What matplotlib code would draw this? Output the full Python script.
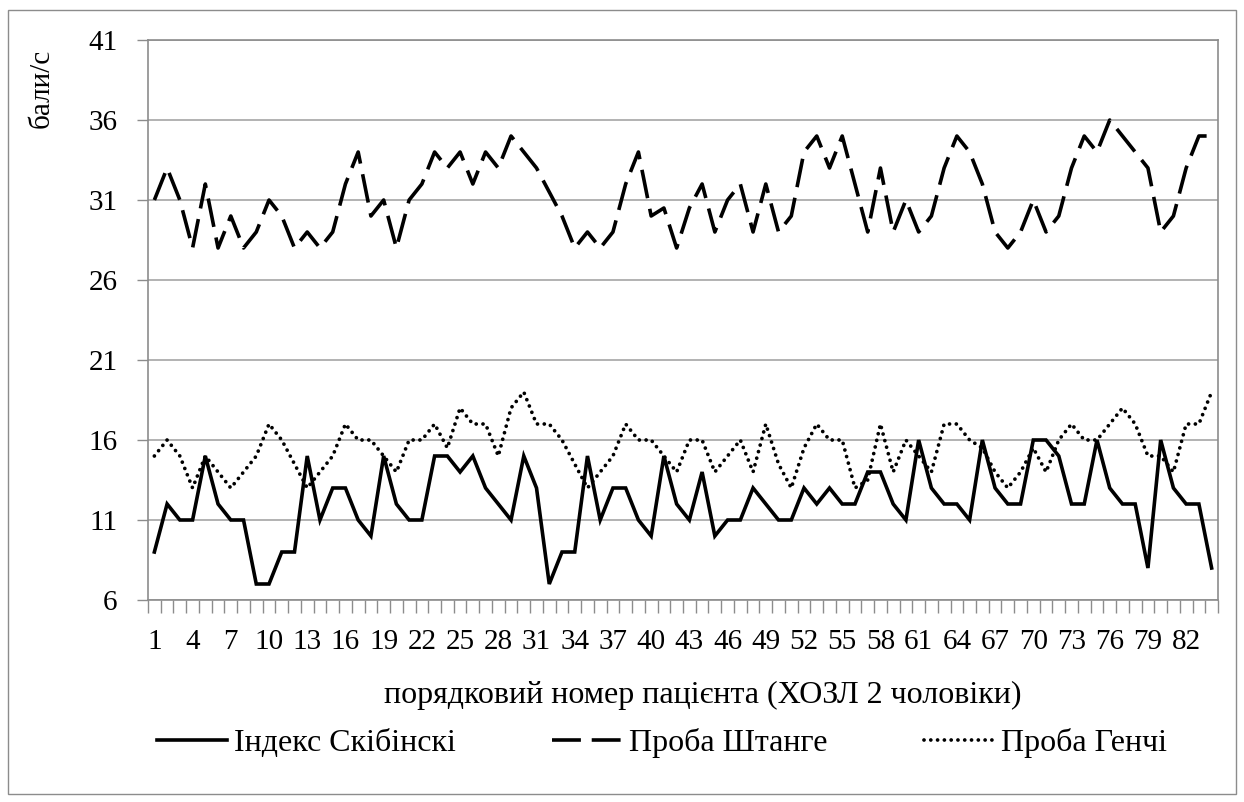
import matplotlib
matplotlib.use("Agg")
import matplotlib.pyplot as plt
from matplotlib.patches import Rectangle
import numpy as np

plt.rcParams['font.family'] = ['Liberation Serif', 'DejaVu Serif']

patients = list(range(1, 85))

skibinski = [9, 12, 11, 11, 15, 12, 11, 11, 7, 7,
             9, 9, 15, 11, 13, 13, 11, 10, 15, 12,
             11, 11, 15, 15, 14, 15, 13, 12, 11, 15,
             13, 7, 9, 9, 15, 11, 13, 13, 11, 10,
             15, 12, 11, 14, 10, 11, 11, 13, 12, 11,
             11, 13, 12, 13, 12, 12, 14, 14, 12, 11,
             16, 13, 12, 12, 11, 16, 13, 12, 12, 16,
             16, 15, 12, 12, 16, 13, 12, 12, 8, 16,
             13, 12, 12, 8]

shtange = [31, 33, 31, 28, 32, 28, 30, 28, 29, 31,
           30, 28, 29, 28, 29, 32, 34, 30, 31, 28,
           31, 32, 34, 33, 34, 32, 34, 33, 35, 34,
           33, 31.5, 30, 28, 29, 28, 29, 32, 34, 30,
           30.5, 28, 30.5, 32, 29, 31, 32, 29, 32, 29,
           30, 34, 35, 33, 35, 32, 29, 33, 29, 31,
           29, 30, 33, 35, 34, 32, 29, 28, 29, 31,
           29, 30, 33, 35, 34, 36, 35, 34, 33, 29,
           30, 33, 35, 35]

genchi = [15, 16, 15, 13, 15, 14, 13, 14, 15, 17,
          16, 14.5, 13, 14, 15, 17, 16, 16, 15, 14,
          16, 16, 17, 15.5, 18, 17, 17, 15, 18, 19,
          17, 17, 16, 14.5, 13, 14, 15, 17, 16, 16,
          15, 14, 16, 16, 14, 15, 16, 14, 17, 14.5,
          13, 15.5, 17, 16, 16, 13, 13.5, 17, 14, 16,
          15, 14, 17, 17, 16, 15.5, 14, 13, 14, 15.5,
          14, 16, 17, 16, 16, 17, 18, 17, 15, 15,
          14, 17, 17, 19]

y_ticks = [6, 11, 16, 21, 26, 31, 36, 41]

W, H = 1244, 802
fig = plt.figure(figsize=(W / 100, H / 100), dpi=100)
ax = fig.add_axes([148 / W, 1 - 600 / H, 1070 / W, 560 / H])

# chart area border
fig.patches.append(Rectangle((8 / W, 1 - 794 / H), 1228 / W, 784 / H,
                             transform=fig.transFigure, fill=False,
                             edgecolor='#8c8c8c', linewidth=1.0))

ax.plot(patients, skibinski, color='black', lw=2.6, solid_joinstyle='miter',
        label='Індекс Скібінскі')
ax.plot(patients, shtange, color='black', lw=2.6, linestyle=(0, (8, 3)),
        dash_capstyle='butt', label='Проба Штанге')
ax.plot(patients, genchi, color='black', lw=2.7, linestyle=(0, (0.01, 1.8)),
        dash_capstyle='round', label='Проба Генчі')

ax.set_xlim(0.5, 84.5)
ax.set_ylim(6, 41)
ax.set_yticks(y_ticks)
ax.grid(axis='y', color='#a6a6a6', lw=1.2)
ax.set_axisbelow(True)

ax.set_xticks(patients[::3])
ax.set_xticks(np.arange(0.5, 85, 1), minor=True)
ax.tick_params(axis='x', which='major', length=0, pad=21, labelsize=21)
ax.tick_params(axis='x', which='minor', length=9, width=1, color='#8c8c8c', direction='out')
ax.tick_params(axis='y', length=8, width=1, color='#8c8c8c', labelsize=21, pad=14)

for s in ax.spines.values():
    s.set_color('#8c8c8c')
    s.set_linewidth(1.2)

ax.set_xlabel('порядковий номер пацієнта (ХОЗЛ 2 чоловіки)', fontsize=23)
ax.xaxis.set_label_coords((703 - 148) / 1070, -(695 - 600) / 560)
ax.xaxis.label.set_va('center')
fig.text(42 / W, 1 - 88 / H, 'бали/с', rotation=90, fontsize=21,
         ha='center', va='center')

fig.legend(loc='center', bbox_to_anchor=(662 / W, 1 - 743 / H), ncol=3,
           frameon=False, fontsize=23, handlelength=2.2, handletextpad=0.22,
           columnspacing=3.0)

fig.savefig('out.png', dpi=100)
